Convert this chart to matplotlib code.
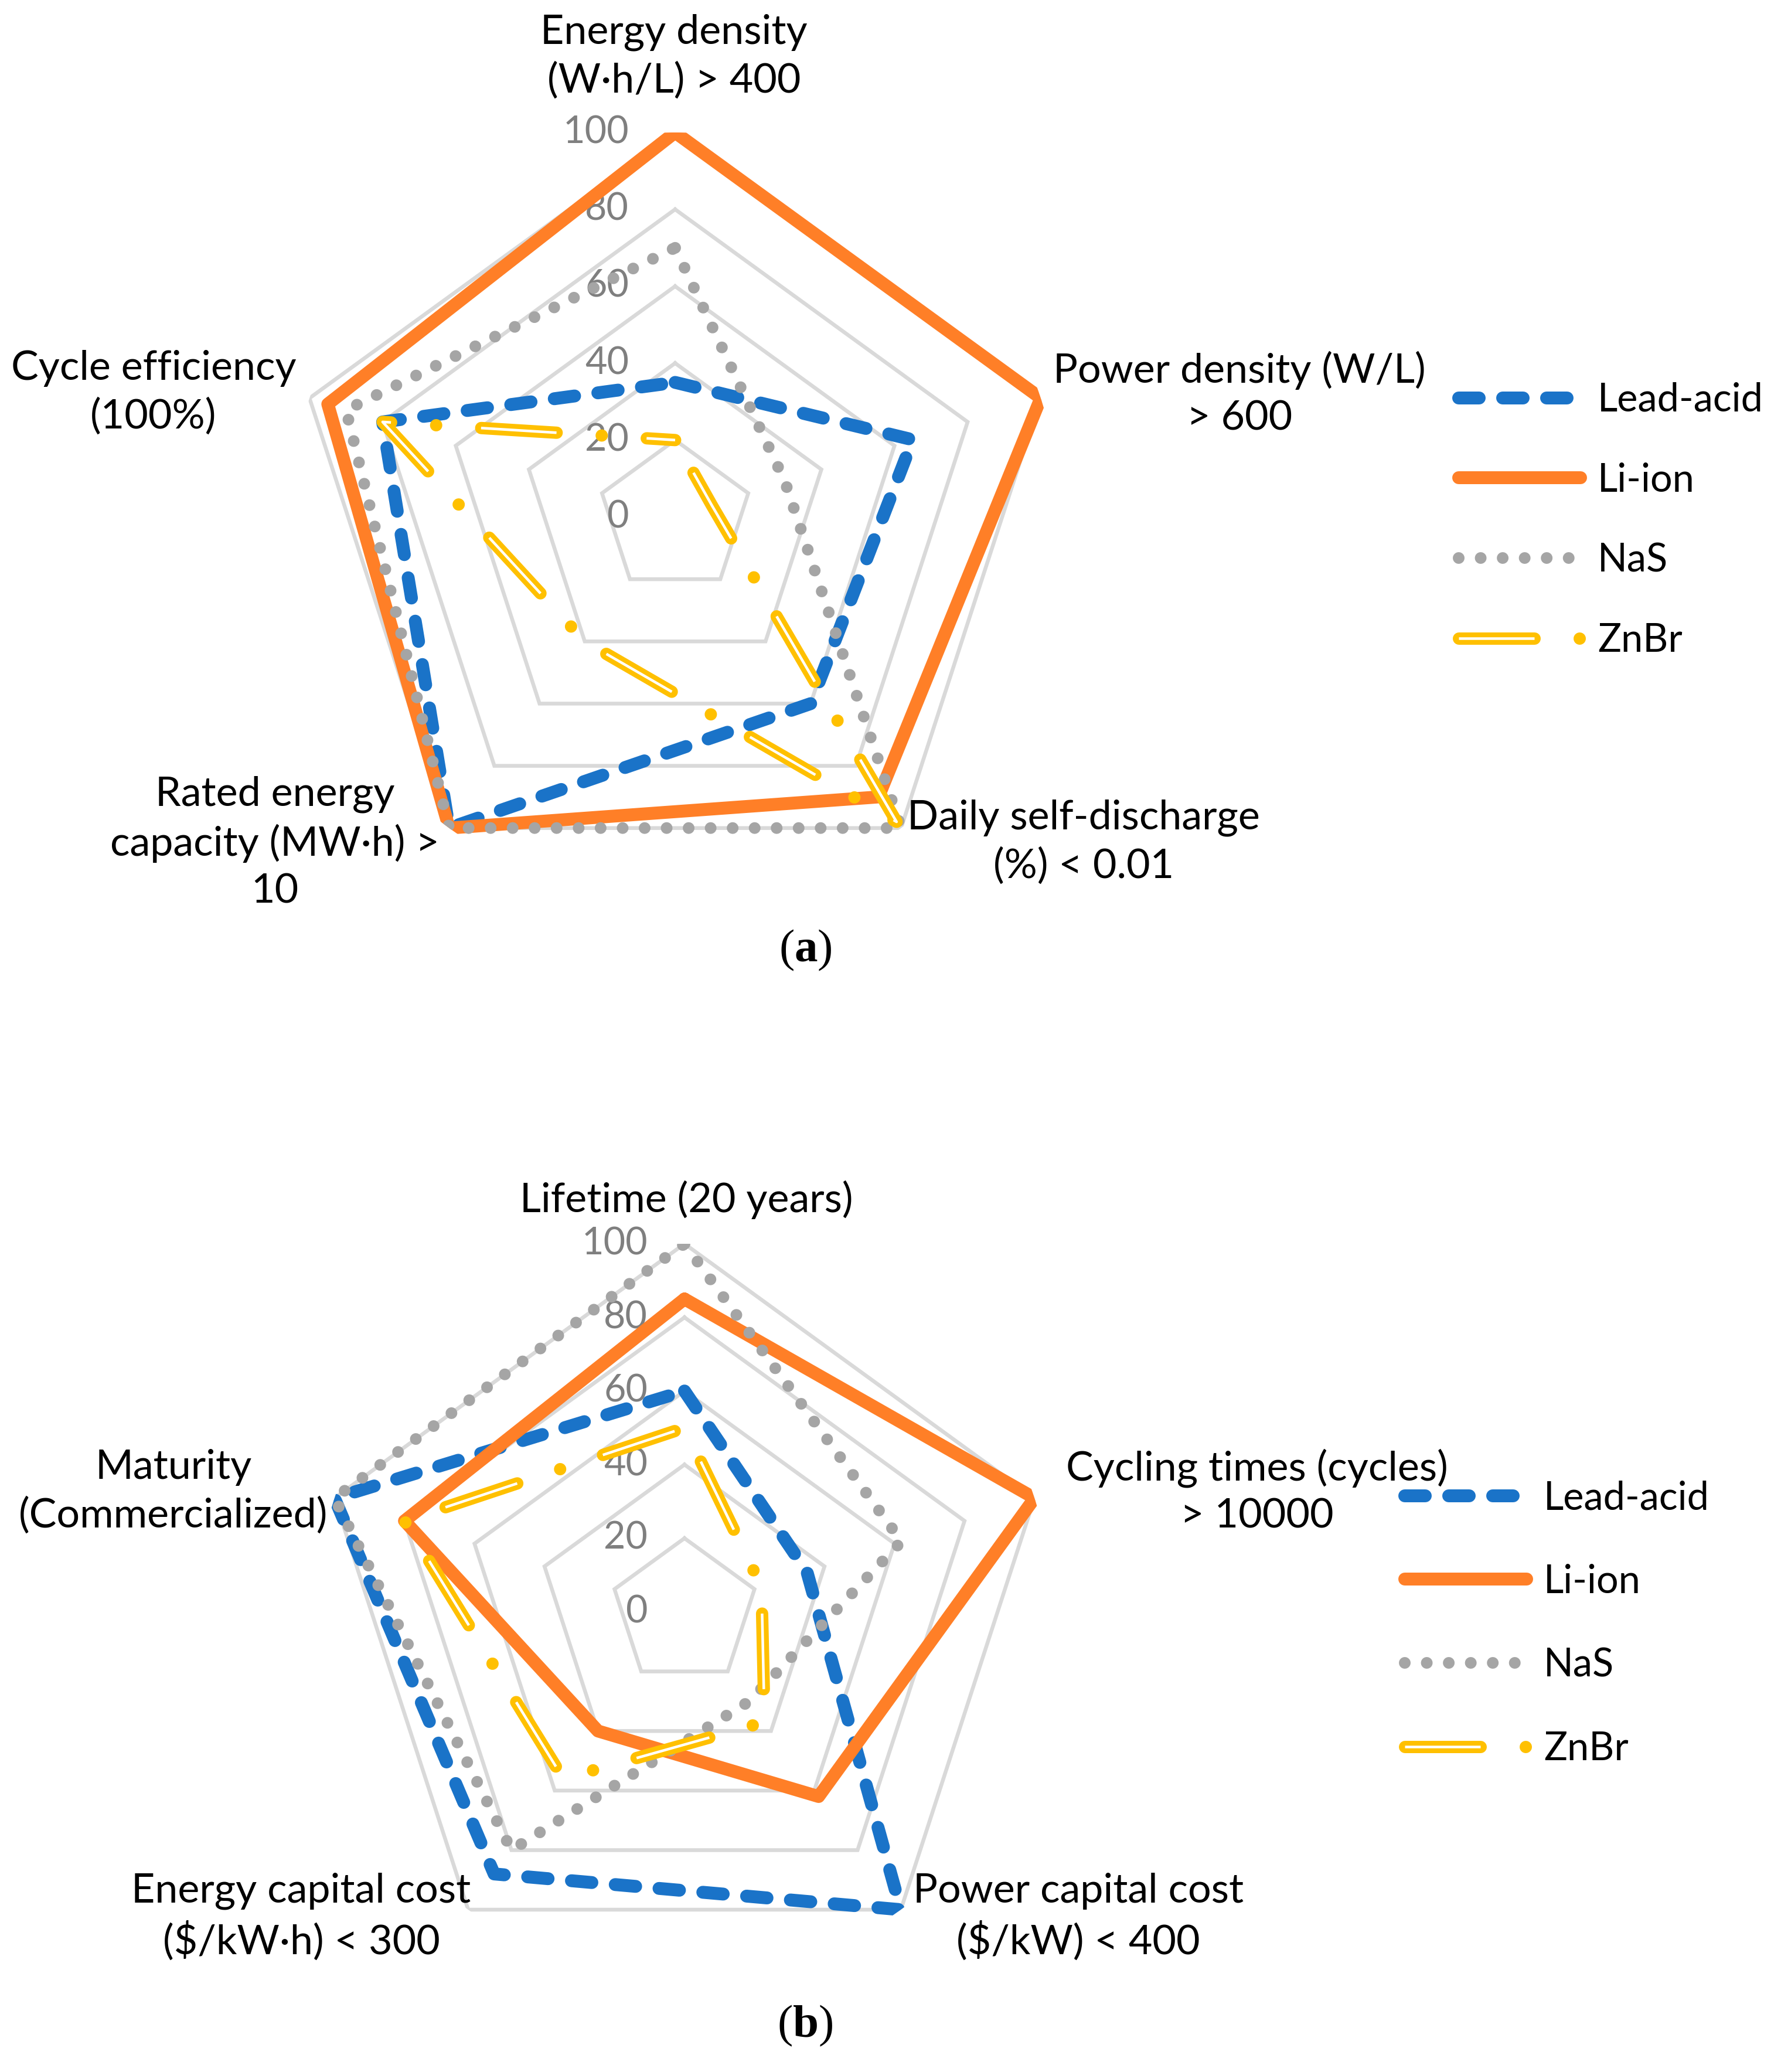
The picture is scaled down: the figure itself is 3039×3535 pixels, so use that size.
import numpy as np
import matplotlib
matplotlib.use("Agg")
import matplotlib.pyplot as plt
from matplotlib.lines import Line2D
from matplotlib.legend_handler import HandlerTuple

plt.rcParams['font.family'] = ['Lato', 'DejaVu Sans']
plt.rcParams['lines.scale_dashes'] = False
plt.rcParams['mathtext.fontset'] = 'custom'
plt.rcParams['mathtext.rm'] = 'Liberation Serif'
plt.rcParams['mathtext.bf'] = 'Liberation Serif:bold'

# ---------------- data ----------------
series_names = ['Lead-acid', 'Li-ion', 'NaS', 'ZnBr']
radial_ticks = [0, 20, 40, 60, 80, 100]

categories_a = ['Energy density\n(W\u00b7h/L) > 400',
                'Power density (W/L)\n> 600',
                'Daily self-discharge\n(%) < 0.01',
                'Rated energy\ncapacity (MW\u00b7h) >\n10',
                'Cycle efficiency\n(100%)']
lead_acid_a = [35, 65, 60, 100, 80]
li_ion_a = [100, 100, 90, 100, 95]
nas_a = [70, 30, 100, 100, 90]
znbr_a = [20, 10, 98, 40, 80]

categories_b = ['Lifetime (20 years)',
                'Cycling times (cycles)\n> 10000',
                'Power capital cost\n($/kW) < 400',
                'Energy capital cost\n($/kW\u00b7h) < 300',
                'Maturity\n(Commercialized)']
lead_acid_b = [60, 35, 100, 88, 100]
li_ion_b = [85, 100, 62, 40, 80]
nas_b = [100, 62, 30, 80, 100]
znbr_b = [50, 22, 37, 56, 80]

panel_labels = ['a', 'b']

# ---------------- layout helpers ----------------
W, H, DPI = 3039, 3535, 300
fig = plt.figure(figsize=(W / DPI, H / DPI), dpi=DPI)
fig.patch.set_facecolor('white')

def px(v):
    return v * 72.0 / DPI   # pixels -> points

def fx(x):
    return x / W

def fy(y):
    return 1 - y / H

BLUE = '#1A73C8'
ORANGE = '#FF7F27'
GRAY = '#A5A5A5'
YELLOW = '#FFC000'
GRID = '#D9D9D9'
TICKC = '#7F7F7F'
FS = 16.8
TFS = 15.5
LFS = 16

STY = {
    'la': dict(color=BLUE, lw=px(22), dash_capstyle='round',
               dash_joinstyle='round'),
    'li': dict(color=ORANGE, lw=px(22), solid_joinstyle='round',
               solid_capstyle='round'),
    'na': dict(color=GRAY, lw=px(20), dash_capstyle='round'),
    'zn': dict(color=YELLOW, lw=px(21), dash_capstyle='round',
               dash_joinstyle='round'),
    'zw': dict(color='white', lw=px(4.5), dash_capstyle='butt'),
}
DASH_LA = (px(35), px(40))
DASH_NA = (0.01, px(37.5))
DASH_ZN = (px(129), px(77), 0.01, px(77))
DASH_ZW = (px(129), px(154.01))
ZN_OFF = px(219)

def radar(ax, series, tick_offset):
    n = len(series[0])
    theta = np.linspace(0, 2 * np.pi, n, endpoint=False)
    tc = np.append(theta, theta[0])
    ax.set_theta_zero_location('N')
    ax.set_theta_direction(-1)
    ax.set_ylim(0, 100)
    ax.grid(False)
    ax.spines['polar'].set_visible(False)
    ax.set_xticks([])
    ax.set_yticks([])
    ax.patch.set_alpha(0)
    for lev in radial_ticks[1:]:
        ax.plot(tc, [lev] * (n + 1), color=GRID, lw=px(6.5), zorder=1,
                solid_joinstyle='miter')
    for lev in radial_ticks:
        ax.annotate(str(lev), xy=(0, lev), xytext=(-tick_offset, 0),
                    textcoords='offset points', ha='right', va='center',
                    fontsize=TFS, color=TICKC, zorder=2, annotation_clip=False)
    la, li, na, zn = [np.append(s, s[0]) for s in series]
    ax.plot(tc, la, linestyle=(0, DASH_LA), zorder=3, **STY['la'])
    ax.plot(tc, li, linestyle='-', zorder=4, **STY['li'])
    ax.plot(tc, na, linestyle=(0, DASH_NA), zorder=5, **STY['na'])
    ax.plot(tc, zn, linestyle=(ZN_OFF, DASH_ZN), zorder=6, **STY['zn'])
    ax.plot(tc, zn, linestyle=(ZN_OFF, DASH_ZW), zorder=7, **STY['zw'])

def legend_handles():
    return [Line2D([], [], linestyle=(0, DASH_LA), **STY['la']),
            Line2D([], [], linestyle='-', **STY['li']),
            Line2D([], [], linestyle=(0, DASH_NA), **STY['na']),
            (Line2D([], [], linestyle=(0, DASH_ZN), **STY['zn']),
             Line2D([], [], linestyle=(0, DASH_ZW), **STY['zw']))]

def add_legend(x0, ytop, spacing):
    fig.legend(legend_handles(), series_names, loc='upper left',
               bbox_to_anchor=(fx(x0), fy(ytop)), frameon=False,
               fontsize=LFS, handlelength=3.12, handletextpad=0.44,
               labelspacing=spacing, borderpad=0, borderaxespad=0,
               handler_map={tuple: HandlerTuple(ndivide=1, pad=0)})

def panel_label(x, y, letter):
    fig.text(fx(x), fy(y), '(' + r'$\mathbf{' + letter + '}$' + ')',
             ha='center', va='center', fontsize=19, family='Liberation Serif')

# ---------------- panel (a) ----------------
cxa, cya, ra = 1152, 882, 656
axa = fig.add_axes([fx(cxa - ra), fy(cya + ra), 2 * ra / W, 2 * ra / H],
                   projection='polar')
radar(axa, [lead_acid_a, li_ion_a, nas_a, znbr_a], px(79))
pos_a = [(1150, 97), (2115, 672), (1849, 1437), (469, 1438), (262, 670)]
for (x, y), s in zip(pos_a, categories_a):
    fig.text(fx(x), fy(y), s, ha='center', va='center', fontsize=FS,
             linespacing=1.35, multialignment='center')
add_legend(2489, 652, 1.12)
panel_label(1374, 1621, panel_labels[0])

# ---------------- panel (b) ----------------
cxb, cyb, rb = 1168, 2750, 628
axb = fig.add_axes([fx(cxb - rb), fy(cyb + rb), 2 * rb / W, 2 * rb / H],
                   projection='polar')
radar(axb, [lead_acid_b, li_ion_b, nas_b, znbr_b], px(63))
pos_b = [(1171, 2047), (2145, 2545), (1840, 3270), (514, 3270), (296, 2545)]
for (x, y), s in zip(pos_b, categories_b):
    fig.text(fx(x), fy(y), s, ha='center', va='center', fontsize=FS,
             linespacing=1.35, multialignment='center')
add_legend(2397, 2525, 1.21)
panel_label(1374, 3456, panel_labels[1])

fig.savefig('out.png', dpi=DPI, facecolor='white')
